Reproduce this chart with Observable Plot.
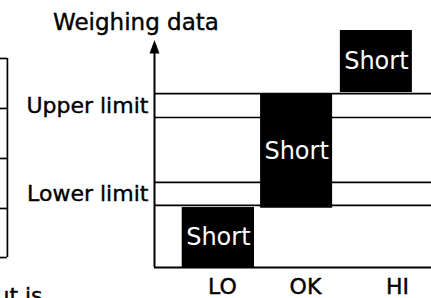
<!DOCTYPE html>
<html><head><meta charset="utf-8">
<script src="https://cdn.jsdelivr.net/npm/d3@7"></script>
<script src="https://cdn.jsdelivr.net/npm/@observablehq/plot@0.6"></script>
<style>
body{margin:0;background:#fff;overflow:hidden}
#chart svg{font-family:"DejaVu Sans",sans-serif;display:block}
</style>
</head><body><div id="chart"></div><script>
// ---- data ----
const categories = ["LO", "OK", "HI"];
const barX1 = [10, 38.3, 67.1];
const barX2 = [36.1, 64.3, 93.1];
const barY1 = [0, 25, 73.8];
const barY2 = [25.3, 73.4, 100];
const barText = ["Short", "Short", "Short"];
const categoryX = [24.5, 54.5, 87.7];
const limitNames = ["Upper limit", "Lower limit"];
const limitLow = [63.3, 26.2];
const limitHigh = [73.4, 35.9];
const axisLabel = "Weighing data";
const tableRowLines = [88.2, 67.1, 46, 24.9, 4.2];
const footText = "Output is";

// ---- derived tables ----
const bars = categories.map((c, i) => ({c, x1: barX1[i], x2: barX2[i], y1: barY1[i], y2: barY2[i], t: barText[i]}));
const limits = limitNames.map((n, i) => ({n, lo: limitLow[i], hi: limitHigh[i]}));
const limitLines = limits.flatMap(d => [d.lo, d.hi]);

const arrowHead = {
  draw(ctx) {
    ctx.moveTo(0, -7);
    ctx.lineTo(5, 6.5);
    ctx.lineTo(-5, 6.5);
    ctx.closePath();
  }
};

const ink = {fill: "black", stroke: "black", strokeWidth: 0.4};

const chart = Plot.plot({
  width: 431,
  height: 298,
  marginLeft: 154,
  marginRight: 0,
  marginTop: 30,
  marginBottom: 31,
  x: {type: "linear", domain: [0, 100], axis: null},
  y: {type: "linear", domain: [0, 100], axis: null},
  style: {fontFamily: "DejaVu Sans", background: "white", overflow: "hidden"},
  marks: [
    // limit band lines
    Plot.ruleY(limitLines, {y: d => d, x1: 0, x2: 100, stroke: "black", strokeWidth: 1.7}),
    // bars
    Plot.rect(bars, {x1: "x1", x2: "x2", y1: "y1", y2: "y2", fill: "black"}),
    Plot.text(bars, {x: d => (d.x1 + d.x2) / 2, y: d => (d.y1 + d.y2) / 2, text: "t", fill: "white", fontSize: 24}),
    // axes
    Plot.ruleY([0], {x1: 0, x2: 100, stroke: "black", strokeWidth: 2}),
    Plot.ruleX([0], {y1: 0, y2: 91, stroke: "black", strokeWidth: 2}),
    Plot.dot([93], {x: 0, y: d => d, symbol: arrowHead, fill: "black", stroke: "none"}),
    // category labels
    Plot.text(categories, {x: (d, i) => categoryX[i], y: -8.2, text: d => d, fontSize: 22, ...ink}),
    // limit labels
    Plot.text(limits, {x: -2.2, y: d => (d.lo + d.hi) / 2, text: "n", textAnchor: "end", fontSize: 22, ...ink}),
    // axis title
    Plot.text([axisLabel], {x: -6.7, y: 103.4, text: d => d, fontSize: 23, ...ink}),
    // cropped table on the left
    Plot.ruleX([-53.1], {y1: 4.2, y2: 88.2, stroke: "black", strokeWidth: 1.7}),
    Plot.ruleY(tableRowLines, {y: d => d, x1: -60, x2: -53.1, stroke: "black", strokeWidth: 1.7}),
    Plot.text([footText], {x: -40.4, y: -12.2, text: d => d, textAnchor: "end", fontSize: 22, ...ink})
  ]
});
document.getElementById("chart").append(chart);
</script></body></html>
